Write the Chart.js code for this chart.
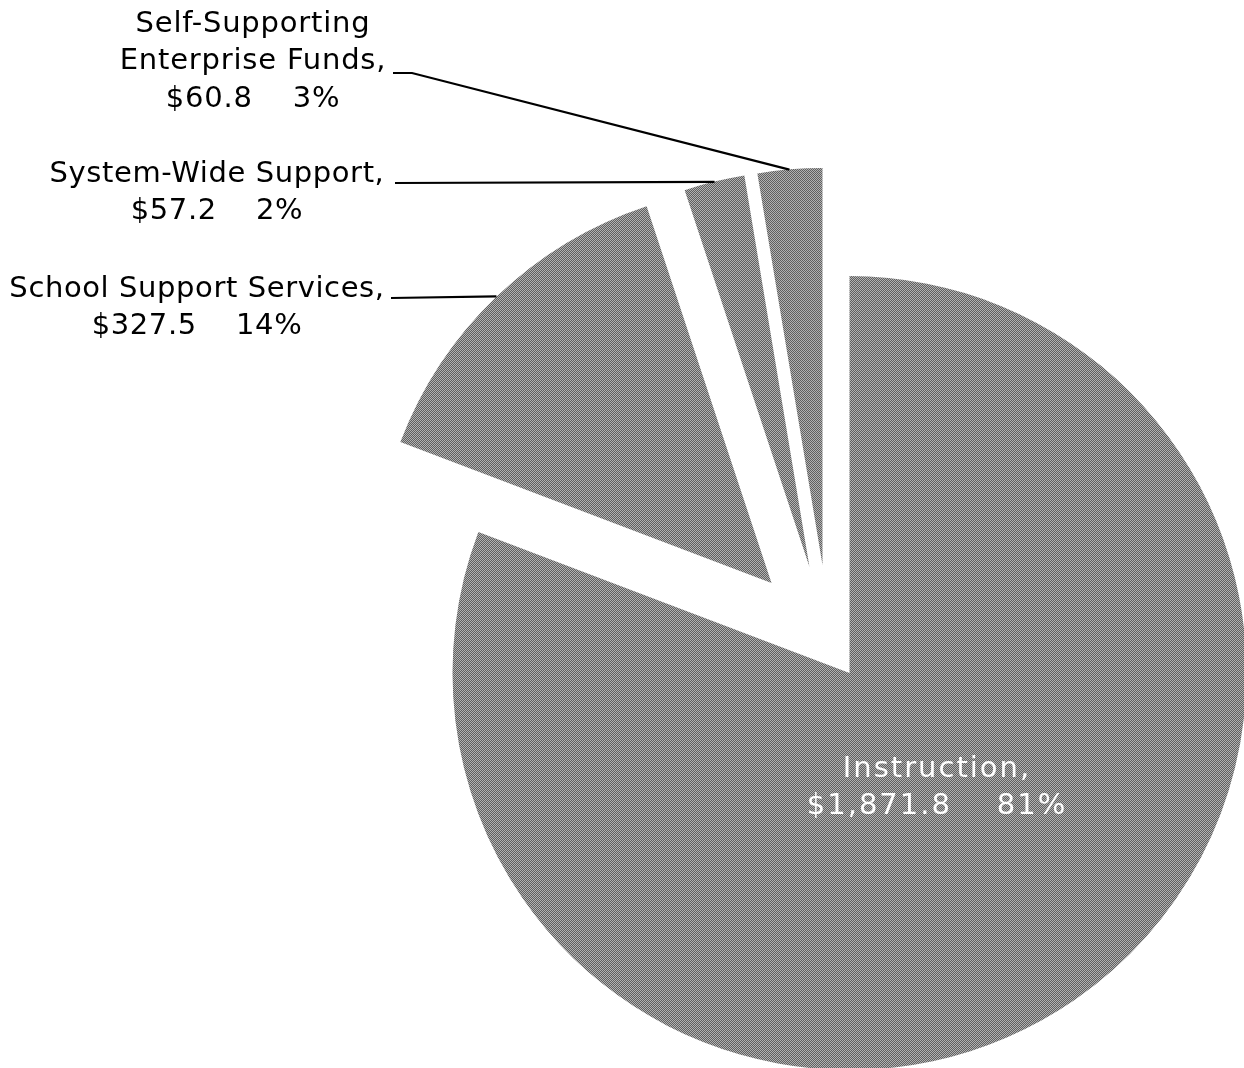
<!DOCTYPE html>
<html><head><meta charset="utf-8">
<script src="https://cdn.jsdelivr.net/npm/chart.js@4"></script>
<style>html,body{margin:0;padding:0;background:#fff;}canvas{display:block;}</style>
</head><body>
<canvas id="c" width="1244" height="1068"></canvas>
<script>
// ---- data ----
const categories = ['Instruction', 'School Support Services', 'System-Wide Support', 'Self-Supporting Enterprise Funds'];
const amounts = [1871.8, 327.5, 57.2, 60.8];
const amountLabels = ['$1,871.8', '$327.5', '$57.2', '$60.8'];
const percentLabels = ['81%', '14%', '2%', '3%'];
const labelLines = [['Instruction,'], ['School Support Services,'], ['System-Wide Support,'], ['Self-Supporting', 'Enterprise Funds,']];

// ---- style / layout ----
const explode = [37, 83, 78, 78];
const labelLayout = [
  {cx: 937, y: 769, color: '#ffffff', spacing: '2px', leader: null},
  {cx: 197, y: 289, color: '#000000', spacing: '0.6px', leader: [[391, 298]]},
  {cx: 217, y: 174, color: '#000000', spacing: '0.6px', leader: [[395, 183]]},
  {cx: 253, y: 24, color: '#000000', spacing: '0.8px', leader: [[393, 73], [412, 73]]}
];
const lineHeight = 37.5;
const fontSpec = '29px "DejaVu Sans"';

function makePattern() {
  const p = document.createElement('canvas');
  p.width = 2; p.height = 2;
  const g = p.getContext('2d');
  g.fillStyle = '#b2b2b2'; g.fillRect(0, 0, 2, 2);
  g.fillStyle = '#606060'; g.fillRect(0, 0, 1, 1); g.fillRect(1, 1, 1, 1);
  return document.getElementById('c').getContext('2d').createPattern(p, 'repeat');
}
const fill = makePattern();

const explodePlugin = {
  id: 'explode',
  beforeDatasetDraw(chart, args) {
    const ctx = chart.ctx;
    args.meta.data.forEach((arc, i) => {
      const mid = (arc.startAngle + arc.endAngle) / 2;
      ctx.save();
      ctx.translate(Math.round(Math.cos(mid) * explode[i]), Math.round(Math.sin(mid) * explode[i]));
      arc.draw(ctx, chart.chartArea);
      ctx.restore();
    });
    return false;
  }
};

const labelPlugin = {
  id: 'labels',
  afterDatasetsDraw(chart) {
    const ctx = chart.ctx;
    const meta = chart.getDatasetMeta(0);
    ctx.save();
    meta.data.forEach((arc, i) => {
      const L = labelLayout[i];
      const mid = (arc.startAngle + arc.endAngle) / 2;
      if (L.leader) {
        const r = arc.outerRadius + explode[i];
        const ax = arc.x + Math.cos(mid) * r;
        const ay = arc.y + Math.sin(mid) * r;
        ctx.beginPath();
        ctx.moveTo(L.leader[0][0], L.leader[0][1]);
        for (let k = 1; k < L.leader.length; k++) ctx.lineTo(L.leader[k][0], L.leader[k][1]);
        ctx.lineTo(ax, ay);
        ctx.strokeStyle = '#000';
        ctx.lineWidth = 2.2;
        ctx.stroke();
      }
      ctx.font = fontSpec;
      if ('letterSpacing' in ctx) ctx.letterSpacing = L.spacing;
      ctx.fillStyle = L.color;
      ctx.textAlign = 'center';
      ctx.textBaseline = 'middle';
      const lines = labelLines[i].concat([amountLabels[i] + '    ' + percentLabels[i]]);
      lines.forEach((t, k) => ctx.fillText(t, L.cx, L.y + k * lineHeight));
    });
    ctx.restore();
  }
};

new Chart(document.getElementById('c'), {
  type: 'pie',
  data: {
    labels: categories,
    datasets: [{
      data: amounts,
      backgroundColor: fill,
      borderWidth: 0,
      radius: 397
    }]
  },
  options: {
    responsive: false,
    animation: false,
    events: [],
    radius: 397,
    layout: {padding: {left: 413, right: 0, top: 218, bottom: 0}},
    plugins: {legend: {display: false}, tooltip: {enabled: false}}
  },
  plugins: [explodePlugin, labelPlugin]
});
</script>
</body></html>
